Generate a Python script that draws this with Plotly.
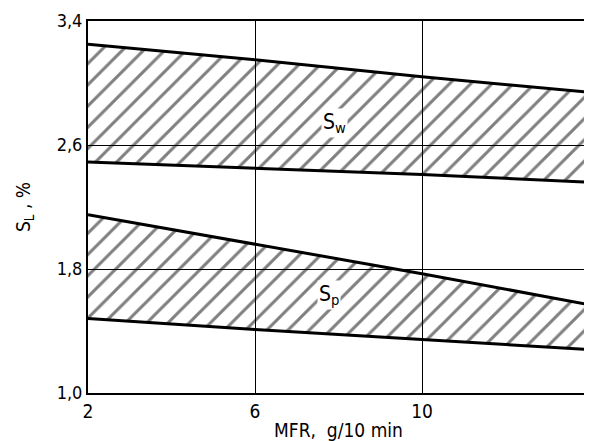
import plotly.graph_objects as go

mfr = [2, 6, 10, 14]
sw_upper = [3.25, 3.15, 3.04, 2.94]
sw_lower = [2.49, 2.45, 2.41, 2.36]
sp_upper = [2.15, 1.96, 1.77, 1.57]
sp_lower = [1.48, 1.41, 1.345, 1.28]

x_ticks = [2, 6, 10, 14]
x_tick_text = ["2", "6", "10", "14"]
y_ticks = [1.0, 1.8, 2.6, 3.4]
y_tick_text = ["1,0", "1,8", "2,6", "3,4"]

FONT = "DejaVu Sans Condensed, Liberation Sans Narrow, DejaVu Sans, sans-serif"

fig = go.Figure()

def band(lower, upper):
    fig.add_trace(go.Scatter(x=mfr, y=lower, mode="lines",
                             line=dict(color="black", width=3),
                             showlegend=False, hoverinfo="skip"))
    fig.add_trace(go.Scatter(x=mfr, y=upper, mode="lines",
                             line=dict(color="black", width=3),
                             fill="tonexty", fillcolor="rgba(0,0,0,0)",
                             fillpattern=dict(shape="/", size=15, solidity=0.2,
                                              fgcolor="black", bgcolor="rgba(0,0,0,0)",
                                              fillmode="overlay"),
                             showlegend=False, hoverinfo="skip"))

band(sw_lower, sw_upper)
band(sp_lower, sp_upper)

fig.add_annotation(x=7.9, y=2.74, text="S<sub>w</sub>", showarrow=False,
                   font=dict(family=FONT, size=21, color="black"),
                   bgcolor="white")
fig.add_annotation(x=7.77, y=1.63, text="S<sub>p</sub>", showarrow=False,
                   font=dict(family=FONT, size=21, color="black"),
                   bgcolor="white")

# page body has an 8px default margin; compensate so the plot area sits at 88..581 x 21..385
fig.update_layout(
    width=584, height=433,
    margin=dict(l=80, r=3, t=13, b=48),
    paper_bgcolor="white", plot_bgcolor="white",
    font=dict(family=FONT, size=18, color="black"),
    xaxis=dict(range=[2, 14], tickvals=x_ticks, ticktext=x_tick_text,
               showgrid=True, gridcolor="black", gridwidth=1,
               showline=True, linecolor="black", linewidth=2, mirror=True,
               ticks="", zeroline=False, automargin=False,
               tickfont=dict(family=FONT, size=19),
               title=dict(text="MFR,&nbsp; g/10 min", standoff=12,
                          font=dict(family=FONT, size=19))),
    yaxis=dict(range=[1.0, 3.4], tickvals=y_ticks, ticktext=y_tick_text,
               showgrid=True, gridcolor="black", gridwidth=1,
               showline=True, linecolor="black", linewidth=2, mirror=True,
               ticks="", zeroline=False, automargin=False,
               tickfont=dict(family=FONT, size=18),
               title=dict(text="S<sub>L</sub> , %", standoff=21,
                          font=dict(family=FONT, size=19))),
)

fig.write_html("out.html")
